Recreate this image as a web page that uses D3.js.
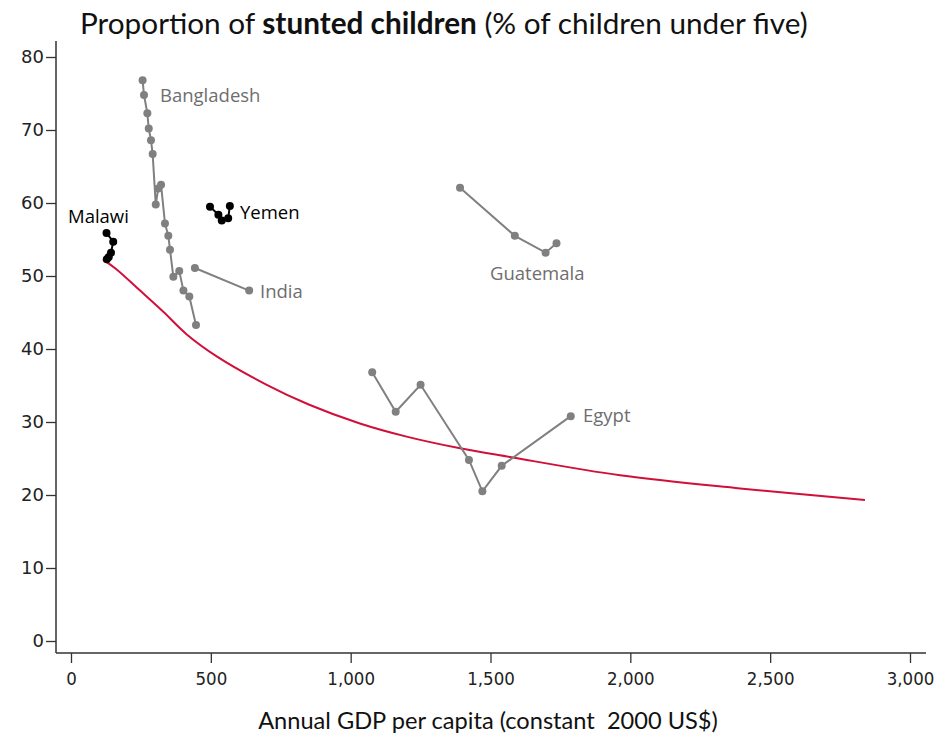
<!DOCTYPE html>
<html>
<head>
<meta charset="utf-8">
<script src="https://cdn.jsdelivr.net/npm/d3@7"></script>
<style>
  body { margin: 0; background: #fff; }
  svg { display: block; }
</style>
</head>
<body>
<div id="chart"></div>
<script>
// GDP per capita (x) and stunting % (y)
const bangladeshGdp = [256, 261, 273, 278, 286, 292, 303, 312, 322, 336, 348, 354, 366, 387, 402, 423, 447];
const bangladeshStunt = [76.8, 74.8, 72.3, 70.2, 68.6, 66.7, 59.8, 62.0, 62.5, 57.2, 55.5, 53.6, 49.9, 50.7, 48.0, 47.2, 43.3];
const indiaGdp = [443, 637];
const indiaStunt = [51.1, 48.0];
const malawiGdp = [127, 151, 143, 135, 128];
const malawiStunt = [55.9, 54.7, 53.2, 52.6, 52.3];
const yemenGdp = [497, 527, 539, 562, 568];
const yemenStunt = [59.5, 58.4, 57.6, 57.9, 59.6];
const guatemalaGdp = [1391, 1587, 1697, 1736];
const guatemalaStunt = [62.1, 55.5, 53.2, 54.5];
const egyptGdp = [1077, 1161, 1250, 1423, 1471, 1540, 1787];
const egyptStunt = [36.8, 31.4, 35.1, 24.8, 20.5, 24.0, 30.8];
const fitGdp = [115, 160, 247, 330, 414, 521, 700, 850, 1033, 1200, 1391, 1570, 1963, 2392, 2839];
const fitStunt = [52.2, 51.0, 48.0, 45.1, 42.0, 39.0, 35.1, 32.4, 29.8, 28.0, 26.4, 25.2, 22.7, 20.9, 19.3];
const xTicks = [0, 500, 1000, 1500, 2000, 2500, 3000];
const yTicks = [0, 10, 20, 30, 40, 50, 60, 70, 80];

const zip = (xs, ys) => xs.map((v, i) => ({x: v, y: ys[i]}));

let countries = [
    {name: "Bangladesh", pts: zip(bangladeshGdp, bangladeshStunt), color: "#808080", labelColor: "#6e6e6e", lx: 160, ly: 96},
    {name: "India", pts: zip(indiaGdp, indiaStunt), color: "#808080", labelColor: "#6e6e6e", lx: 260, ly: 292},
    {name: "Guatemala", pts: zip(guatemalaGdp, guatemalaStunt), color: "#808080", labelColor: "#6e6e6e", lx: 490, ly: 274},
    {name: "Egypt", pts: zip(egyptGdp, egyptStunt), color: "#808080", labelColor: "#6e6e6e", lx: 583, ly: 416},
    {name: "Malawi", pts: zip(malawiGdp, malawiStunt), color: "#000", labelColor: "#000", lx: 68, ly: 217},
    {name: "Yemen", pts: zip(yemenGdp, yemenStunt), color: "#000", labelColor: "#000", lx: 240, ly: 213}
];

let width = 943, height = 737;

let svg = d3.select("#chart")
    .append("svg")
    .attr("width", width)
    .attr("height", height);

let xScale = d3.scaleLinear().domain([0, 3000]).range([71, 910]);
let yScale = d3.scaleLinear().domain([0, 80]).range([641, 57]);

// axes (offset from the plot, Stata style)
let yAxis = d3.axisLeft(yScale).tickValues(yTicks).tickSize(10).tickPadding(2);
let xAxis = d3.axisBottom(xScale).tickValues(xTicks).tickSize(10).tickPadding(9).tickFormat(d3.format(","));

let gy = svg.append("g").attr("transform", "translate(56,0)").call(yAxis);
let gx = svg.append("g").attr("transform", "translate(0,653)").call(xAxis);

gy.select(".domain").remove();
gx.select(".domain").remove();
gy.selectAll(".tick line").attr("stroke", "#333").attr("stroke-width", 1.3);
gx.selectAll(".tick line").attr("stroke", "#333").attr("stroke-width", 1.3);
gy.selectAll(".tick text")
    .style("font-family", "'DejaVu Sans', sans-serif")
    .style("font-size", "18px")
    .attr("fill", "#222");
gx.selectAll(".tick text")
    .style("font-family", "'Liberation Sans Narrow', 'DejaVu Sans Condensed', sans-serif")
    .style("font-size", "18.5px")
    .attr("fill", "#222");

svg.append("line")
    .attr("x1", 56).attr("x2", 56).attr("y1", 41).attr("y2", 653)
    .attr("stroke", "#333").attr("stroke-width", 1.5);
svg.append("line")
    .attr("x1", 56).attr("x2", 926).attr("y1", 653).attr("y2", 653)
    .attr("stroke", "#333").attr("stroke-width", 1.5);

// fitted curve
let smooth = d3.line()
    .x(d => xScale(d.x))
    .y(d => yScale(d.y))
    .curve(d3.curveCatmullRom);

svg.append("path")
    .datum(zip(fitGdp, fitStunt))
    .attr("fill", "none")
    .attr("stroke", "#d0103a")
    .attr("stroke-width", 2)
    .attr("d", smooth);

// country trajectories
let straight = d3.line().x(d => xScale(d.x)).y(d => yScale(d.y));

let groups = svg.selectAll(".country")
    .data(countries)
    .enter()
    .append("g")
    .attr("class", "country");

groups.append("path")
    .attr("fill", "none")
    .attr("stroke", d => d.color)
    .attr("stroke-width", 2)
    .attr("d", d => straight(d.pts));

groups.selectAll("circle")
    .data(d => d.pts.map(p => ({...p, color: d.color})))
    .enter()
    .append("circle")
    .attr("cx", d => xScale(d.x))
    .attr("cy", d => yScale(d.y))
    .attr("r", 4)
    .attr("fill", d => d.color);

groups.append("text")
    .attr("x", d => d.lx)
    .attr("y", d => d.ly)
    .attr("dy", "0.35em")
    .attr("fill", d => d.labelColor)
    .style("font-family", "'Open Sans', sans-serif")
    .style("font-size", "18.5px")
    .text(d => d.name);

// title, sized to span the same width as the original
let title = svg.append("text")
    .attr("x", 80)
    .attr("y", 34)
    .attr("fill", "#111")
    .style("font-family", "Lato, sans-serif")
    .style("font-size", "27px");
title.append("tspan").text("Proportion of ");
title.append("tspan").style("font-weight", "bold").text("stunted children");
title.append("tspan").text(" (% of children under five)");
let tw = title.node().getComputedTextLength();
title.style("font-size", (27 * 728 / tw) + "px");

// x axis label
let xLabel = svg.append("text")
    .attr("x", 488)
    .attr("y", 729)
    .attr("text-anchor", "middle")
    .attr("fill", "#111")
    .style("font-family", "Lato, sans-serif")
    .style("font-size", "20px")
    .style("white-space", "pre")
    .text("Annual GDP per capita (constant  2000 US$)");
let lw = xLabel.node().getComputedTextLength();
xLabel.style("font-size", (20 * 460 / lw) + "px");
</script>
</body>
</html>
